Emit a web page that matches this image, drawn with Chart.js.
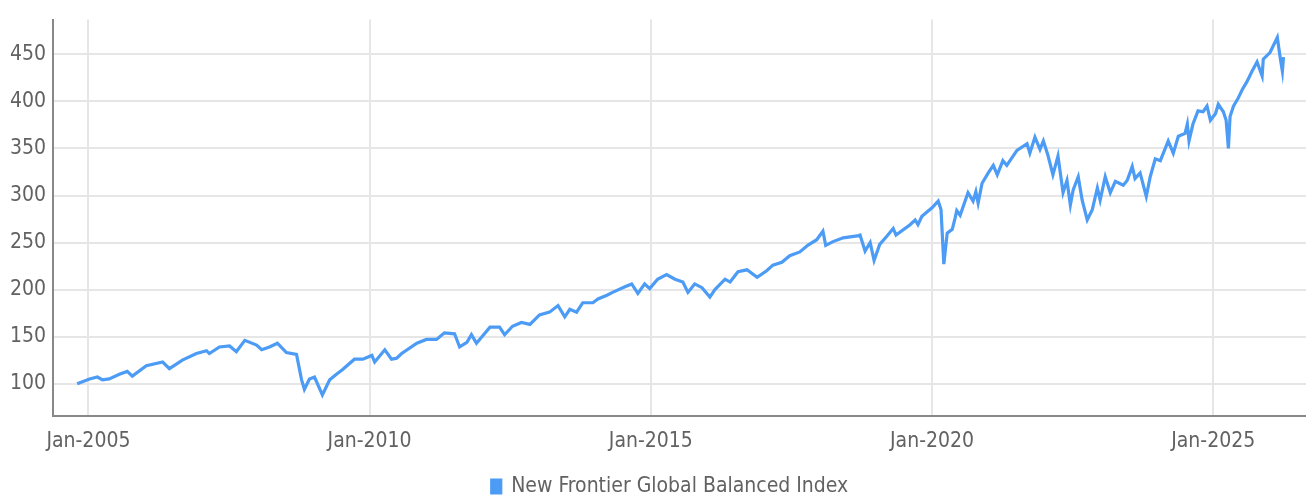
<!DOCTYPE html>
<html>
<head>
<meta charset="utf-8">
<script src="https://cdn.jsdelivr.net/npm/chart.js@4.4.1/dist/chart.umd.min.js"></script>
<style>
html,body{margin:0;padding:0;background:#fff;}
#wrap{width:1306px;height:498px;position:relative;}
</style>
</head>
<body>
<div id="wrap"><canvas id="c" width="1306" height="498"></canvas></div>
<script>
// decimal-year positions of the observations
const years = [
2004.80,2005.02,2005.16,2005.25,2005.37,2005.55,2005.69,2005.78,2006.03,2006.32,2006.44,2006.67,2006.92,
2007.10,2007.15,2007.33,2007.51,2007.63,2007.78,2007.99,2008.08,2008.22,2008.36,2008.52,2008.70,2008.79,
2008.84,2008.93,2009.02,2009.16,2009.29,2009.41,2009.52,2009.73,2009.88,2010.04,2010.09,2010.27,2010.39,
2010.48,2010.57,2010.84,2011.01,2011.19,2011.33,2011.51,2011.60,2011.73,2011.81,2011.90,2012.14,2012.31,
2012.40,2012.54,2012.70,2012.85,2013.02,2013.20,2013.35,2013.47,2013.56,2013.68,2013.79,2013.97,2014.06,
2014.22,2014.32,2014.54,2014.66,2014.77,2014.89,2014.98,2015.12,2015.28,2015.43,2015.57,2015.66,2015.78,
2015.91,2016.05,2016.14,2016.32,2016.41,2016.55,2016.71,2016.89,2017.06,2017.17,2017.33,2017.47,2017.65,
2017.79,2017.95,2018.06,2018.11,2018.24,2018.42,2018.67,2018.72,2018.81,2018.90,2018.97,2019.07,2019.20,
2019.31,2019.36,2019.61,2019.70,2019.75,2019.82,2020.00,2020.11,2020.16,2020.21,2020.27,2020.36,2020.41,
2020.44,2020.50,2020.64,2020.73,2020.78,2020.82,2020.89,2021.00,2021.09,2021.16,2021.26,2021.33,2021.51,
2021.69,2021.74,2021.83,2021.92,2021.98,2022.06,2022.15,2022.24,2022.33,2022.40,2022.46,2022.51,2022.60,
2022.67,2022.76,2022.85,2022.94,2022.99,2023.08,2023.17,2023.26,2023.33,2023.40,2023.47,2023.56,2023.61,
2023.70,2023.81,2023.88,2023.97,2024.06,2024.20,2024.29,2024.38,2024.50,2024.54,2024.57,2024.64,2024.73,
2024.82,2024.89,2024.95,2025.04,2025.09,2025.18,2025.23,2025.27,2025.30,2025.36,2025.44,2025.52,2025.60,
2025.69,2025.78,2025.87,2025.89,2026.01,2026.14,2026.19,2026.23,2026.25
];
const values = [
100,105,107,104,105,110,113,108,119,123,116,125,132,
135,132,139,140,134,146,141,136,139,143,133,131,104,
94,105,107,88,104,110,115,126,126,130,123,136,126,
127,132,143,147,147,154,153,139,144,152,143,160,160,
152,161,165,163,173,176,183,171,179,176,186,186,190,
194,197,203,206,196,206,201,211,216,211,208,197,206,
202,192,200,211,208,219,221,213,220,226,229,236,240,
247,253,262,247,251,255,257,258,241,250,231,248,257,
265,258,269,274,269,278,287,294,285,227,260,264,276,
284,279,303,294,304,292,313,324,332,322,337,332,348,
355,345,362,349,358,343,322,342,303,316,290,306,320,
295,274,285,308,295,320,303,315,313,311,316,331,318,
324,299,320,339,337,358,345,363,366,376,358,376,390,
389,395,380,387,397,389,380,350,384,395,403,413,421,
432,442,427,445,452,468,447,432,447
];
const seriesName = 'New Frontier Global Balanced Index';
const xTickYears = [2005, 2010, 2015, 2020, 2025];
const yTickValues = [100, 150, 200, 250, 300, 350, 400, 450];

const FONT = "'Liberation Sans Narrow', 'DejaVu Sans Condensed', Roboto, sans-serif";
const TEXT = '#626262';
const BLUE = '#4c9bf5';

const legendShift = {
  id: 'legendShift',
  afterLayout(chart) {
    const lg = chart.legend;
    if (lg) { lg.left += 34; lg.top += 9; lg.bottom += 9; }
  }
};

new Chart(document.getElementById('c'), {
  type: 'line',
  data: {
    datasets: [{
      label: seriesName,
      data: years.map((x, i) => ({ x: x, y: values[i] })),
      borderColor: BLUE,
      backgroundColor: BLUE,
      borderWidth: 3.2,
      pointRadius: 0,
      tension: 0,
      fill: false
    }]
  },
  plugins: [legendShift],
  options: {
    responsive: false,
    animation: false,
    layout: { padding: { top: 15, right: 0, left: 0, bottom: 0 } },
    plugins: {
      tooltip: { enabled: false },
      legend: {
        position: 'bottom',
        labels: {
          boxWidth: 9, boxHeight: 13, padding: 4,
          color: TEXT,
          font: { family: FONT, size: 21 }
        }
      }
    },
    scales: {
      x: {
        type: 'linear',
        min: 2004.37,
        max: 2026.65,
        afterBuildTicks: s => { s.ticks = xTickYears.map(v => ({ value: v })); },
        afterFit: s => { s.height = 47; },
        ticks: {
          color: TEXT, padding: 13,
          font: { family: FONT, size: 21 },
          maxRotation: 0,
          callback: v => 'Jan-' + v
        },
        grid: { color: '#e6e6e6', lineWidth: 2, drawTicks: false },
        border: { display: true, color: '#888', width: 2 }
      },
      y: {
        type: 'linear',
        min: 65.6,
        max: 487,
        afterBuildTicks: s => { s.ticks = yTickValues.map(v => ({ value: v })); },
        afterFit: s => { s.width = 53; },
        ticks: {
          color: TEXT, padding: 7,
          font: { family: FONT, size: 21 }
        },
        grid: { color: '#e6e6e6', lineWidth: 2, drawTicks: false },
        border: { display: true, color: '#888', width: 2 }
      }
    }
  }
});
</script>
</body>
</html>
